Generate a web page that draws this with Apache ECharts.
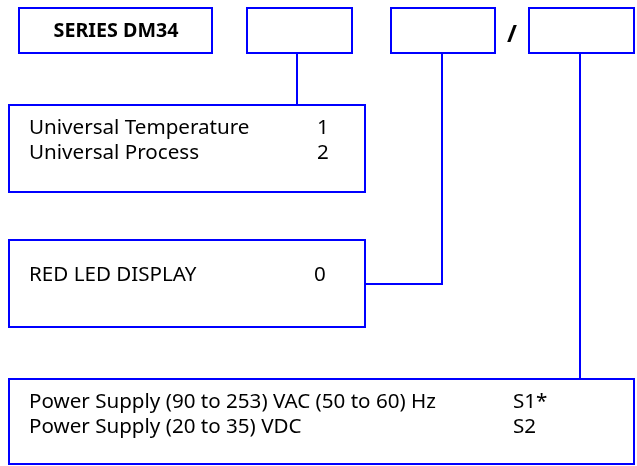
<!DOCTYPE html>
<html>
<head>
<meta charset="utf-8">
<script src="https://cdn.jsdelivr.net/npm/echarts@6/dist/echarts.min.js"></script>
<style>html,body{margin:0;padding:0;background:#fff}#c{width:637px;height:466px}</style>
</head>
<body>
<div id="c"></div>
<script>
// Ordering code content
const seriesTitle = 'SERIES DM34';
const separator = '/';
const inputOptions = ['Universal Temperature', 'Universal Process'];
const inputCodes = ['1', '2'];
const displayOptions = ['RED LED DISPLAY'];
const displayCodes = ['0'];
const powerOptions = ['Power Supply (90 to 253) VAC (50 to 60) Hz', 'Power Supply (20 to 35) VDC'];
const powerCodes = ['S1*', 'S2'];

// Layout (positions / styles kept separately)
const BLUE = '#0000ff';
const FONT = '20.6px "Noto Sans"';
const BFONT = 'bold 19.7px "Noto Sans"';
const SFONT = 'bold 24px "Noto Sans"';
const LW = 2;

const chart = echarts.init(document.getElementById('c'), null, {renderer: 'canvas'});

function box(l, t, r, b) {
  return {type: 'rect', shape: {x: l, y: t, width: r - l, height: b - t},
    style: {fill: '#fff', stroke: BLUE, lineWidth: LW}};
}
function line(points) {
  return {type: 'polyline', shape: {points: points},
    style: {fill: null, stroke: BLUE, lineWidth: LW}};
}
function text(str, x, y, font, align) {
  return {type: 'text', style: {text: str, x: x, y: y, font: font, fill: '#000',
    textAlign: align || 'left', textVerticalAlign: 'middle', align: align || 'left', verticalAlign: 'middle'}};
}

const els = [];
// connectors
els.push(line([[297, 53], [297, 105]]));
els.push(line([[442, 53], [442, 284], [365, 284]]));
els.push(line([[580, 53], [580, 379]]));
// top code boxes
els.push(box(19, 8, 212, 53));
els.push(box(247, 8, 352, 53));
els.push(box(391, 8, 495, 53));
els.push(box(529, 8, 634, 53));
els.push(text(seriesTitle, 116, 31, BFONT, 'center'));
els.push(text(separator, 512, 35, SFONT, 'center'));
// option boxes
els.push(box(9, 105, 365, 192));
inputOptions.forEach((s, i) => {
  els.push(text(s, 29, 128.5 + i * 24.5, FONT));
  els.push(text(inputCodes[i], 317, 128.5 + i * 24.5, FONT));
});
els.push(box(9, 240, 365, 327));
displayOptions.forEach((s, i) => {
  els.push(text(s, 29, 275.5 + i * 24.5, FONT));
  els.push(text(displayCodes[i], 314, 275.5 + i * 24.5, FONT));
});
els.push(box(9, 379, 634, 464));
powerOptions.forEach((s, i) => {
  els.push(text(s, 29, 402.5 + i * 25, FONT));
  els.push(text(powerCodes[i], 513, 402.5 + i * 25, FONT));
});

chart.setOption({
  animation: false,
  backgroundColor: '#fff',
  graphic: {elements: els}
});
</script>
</body>
</html>
